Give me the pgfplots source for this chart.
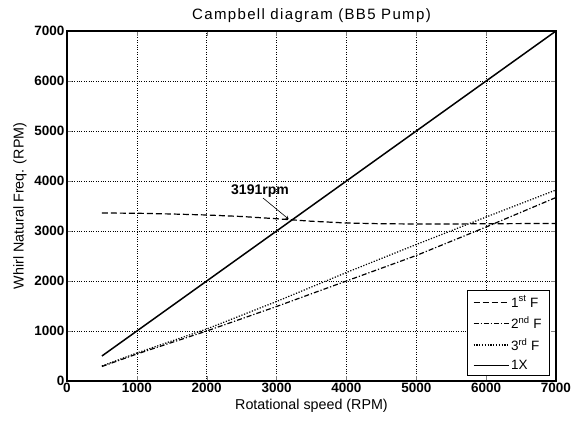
\documentclass[border=0pt]{standalone}
\usepackage{pgfplots}
\pgfplotsset{compat=1.18}
\usepackage{fontspec}
\setmainfont{Liberation Sans}
\begin{document}
\begin{tikzpicture}
\useasboundingbox (-67pt,-42pt) rectangle (507pt,381pt);
\begin{axis}[
  at={(0pt,0pt)}, anchor=south west,
  scale only axis,
  width=489pt, height=350pt,
  xmin=0, xmax=7000, ymin=0, ymax=7000,
  xtick={0,1000,...,7000}, ytick={0,1000,...,7000},
  /pgf/number format/assume math mode=true,
  /pgf/number format/1000 sep={},
  scaled ticks=false,
  tick align=inside,
  ticklabel style={font=\fontsize{13.5}{15}\selectfont\bfseries},
  xticklabel style={yshift=1pt},
  yticklabel style={xshift=1pt},
  major tick length=5pt,
  grid=major,
  grid style={black, dotted, line width=0.6pt},
  axis line style={line width=1.1pt},
  title={Campbell diagram (BB5 Pump)},
  title style={font=\fontsize{15}{17}\selectfont\addfontfeatures{LetterSpace=9}, yshift=-1pt},
  xlabel={Rotational speed (RPM)},
  ylabel={Whirl Natural Freq. (RPM)},
  label style={font=\fontsize{14.3}{16}\selectfont},
  xlabel style={yshift=1pt},
  ylabel style={yshift=1pt},
  legend style={at={(rel axis cs:1,0)}, anchor=south east, xshift=-6pt, yshift=5pt,
    font=\fontsize{13.5}{15}\selectfont, draw=black, line width=0.8pt, row sep=4pt,
    inner xsep=6pt, inner ysep=3pt},
  legend cell align=left,
  legend image post style={line width=1.1pt},
  legend image code/.code={\draw[#1] (0cm,0cm) -- (35pt,0cm);},
]
\addplot[black, dash pattern=on 6pt off 3pt, line width=1.2pt] coordinates {
(500,3360) (1000,3355) (1500,3340) (2000,3320) (2500,3290) (3000,3245) (3500,3195) (4000,3160) (4500,3145) (5000,3140) (5500,3140) (6000,3145) (6500,3148) (7000,3150)};
\addlegendentry{1\textsuperscript{st} F}
\addplot[black, dash pattern=on 5pt off 2pt on 1.2pt off 2pt, line width=1.2pt] coordinates {
(500,290) (1000,540) (2000,1000) (3000,1490) (4000,2000) (5000,2510) (6000,3080) (7000,3670)};
\addlegendentry{2\textsuperscript{nd} F}
\addplot[black, dash pattern=on 1.2pt off 1.6pt, line width=1.2pt] coordinates {
(500,300) (1000,560) (2000,1040) (3000,1590) (4000,2170) (5000,2730) (6000,3280) (7000,3820)};
\addlegendentry{3\textsuperscript{rd} F}
\addplot[black, line width=1.5pt] coordinates {
(500,500) (1000,1000) (2000,2000) (3000,3000) (4000,4000) (5000,5000) (6000,6000) (7000,7000)};
\addlegendentry{1X}
\node[font=\fontsize{14}{16}\selectfont\bfseries] at (axis cs:2763,3800) {3191rpm};
\draw[->, >=stealth, line width=0.6pt] (axis cs:2806,3660) -- (axis cs:3175,3235);
\end{axis}
\end{tikzpicture}
\end{document}
